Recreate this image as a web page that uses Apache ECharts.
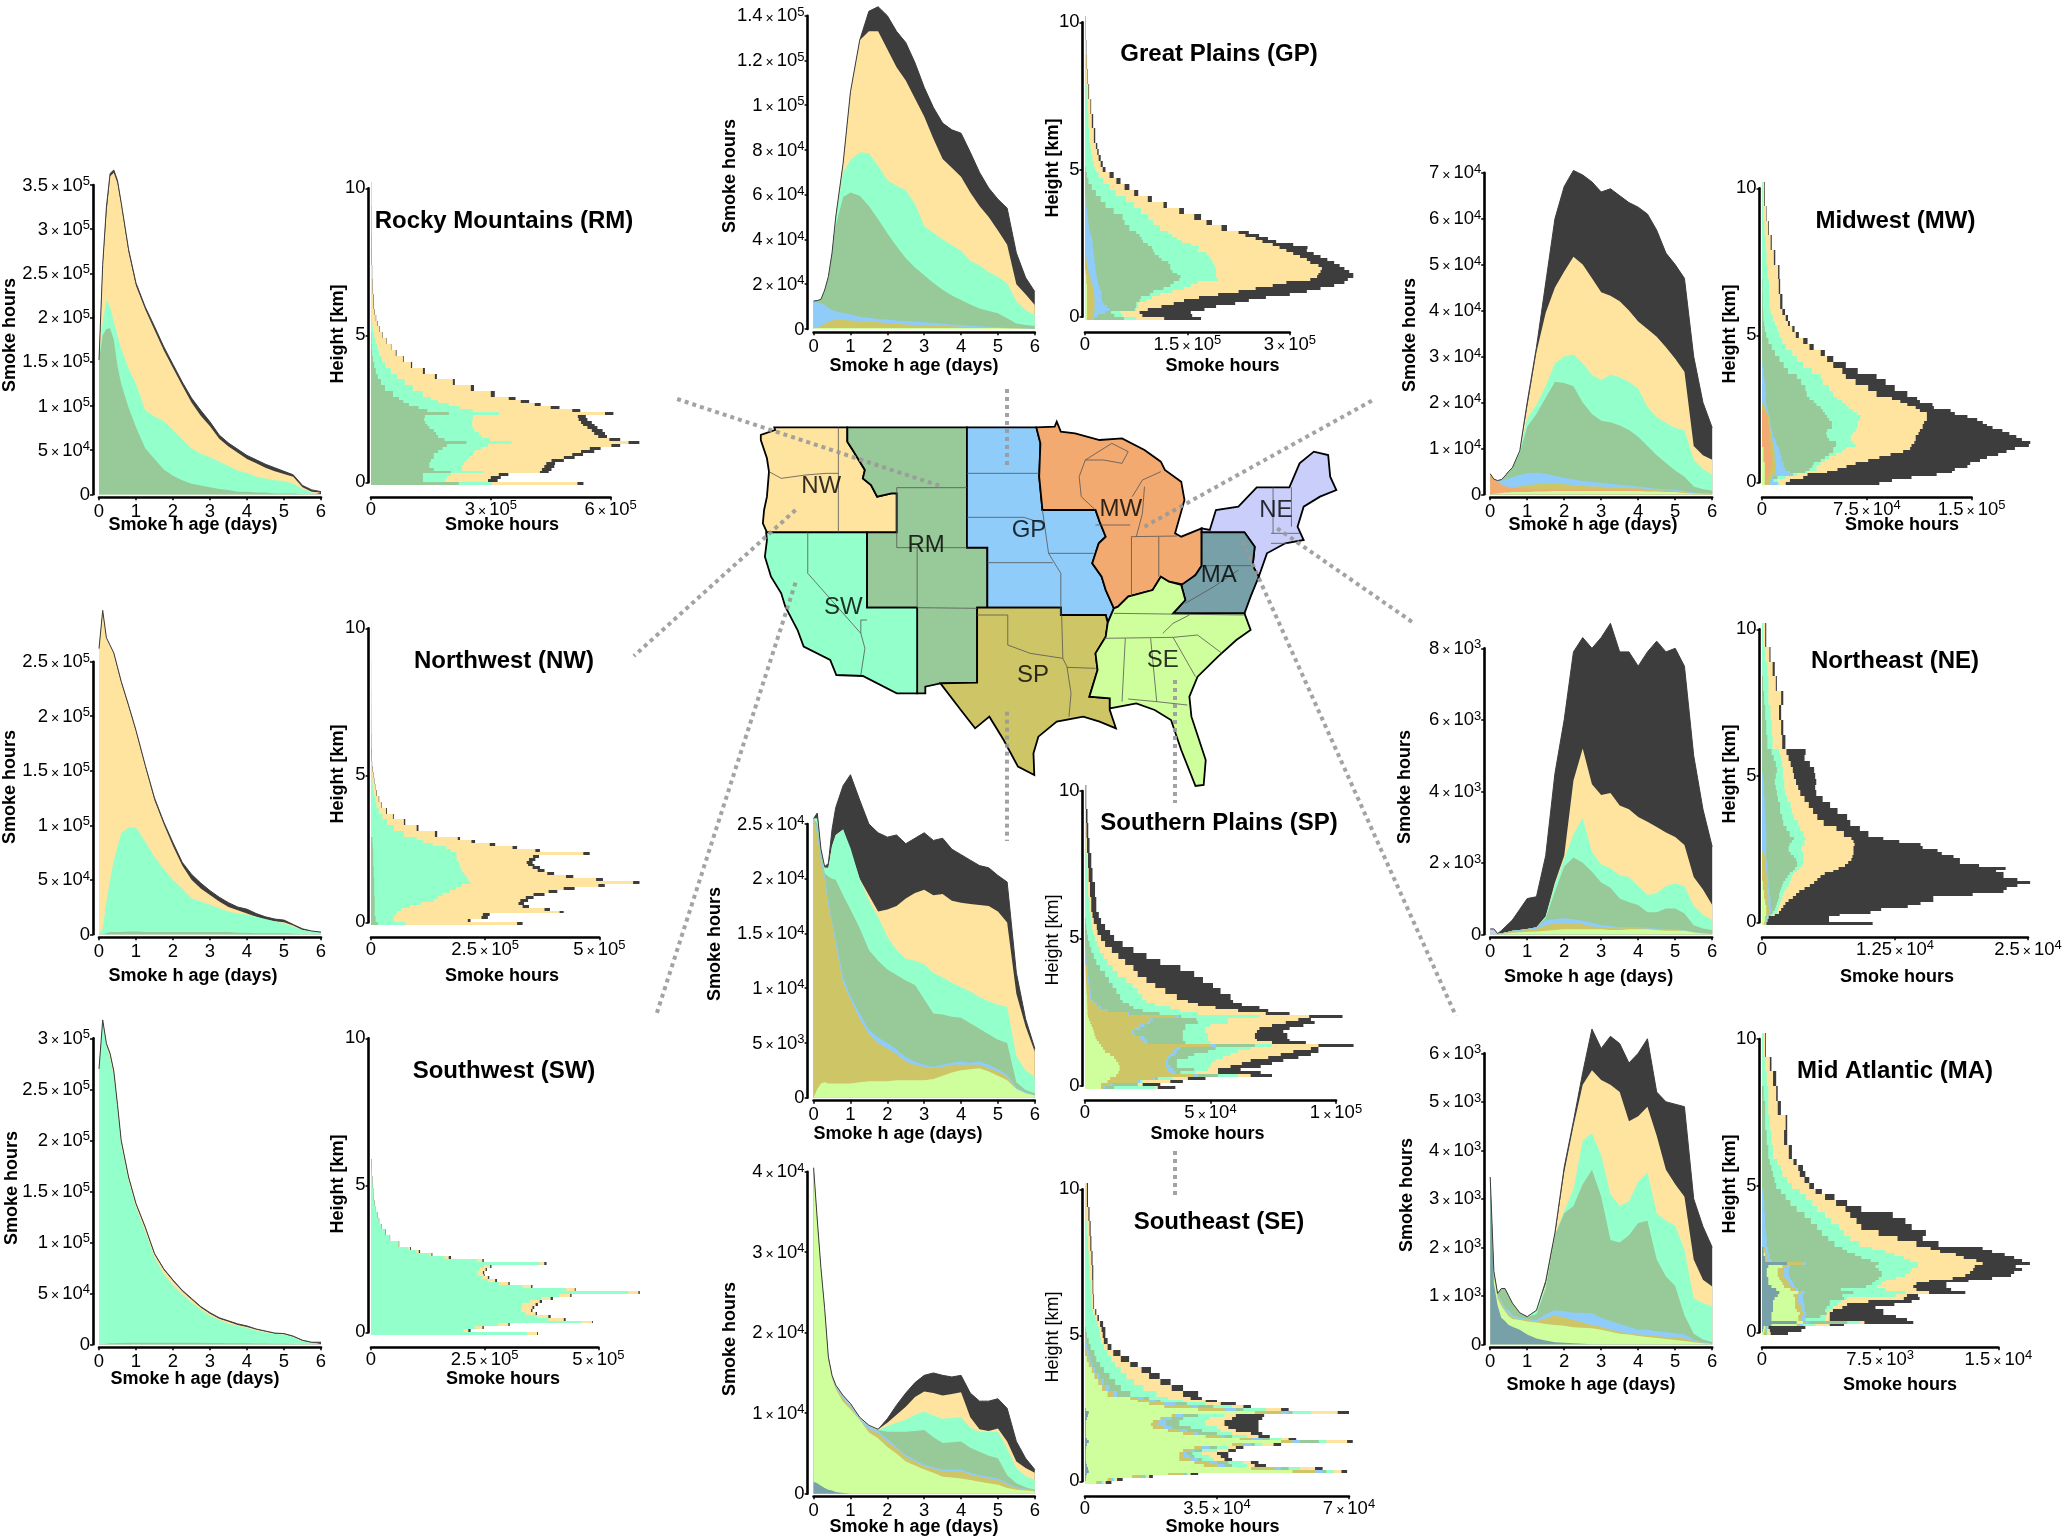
<!DOCTYPE html>
<html><head><meta charset="utf-8"><style>html,body{margin:0;padding:0;background:#fff}#c{width:2067px;height:1537px}</style>
<script src="https://cdn.jsdelivr.net/npm/echarts@6/dist/echarts.min.js"></script></head><body><div id="c"></div>
<script>
// shared sampling of the age axis (days) and height bin edges (km)
const ages=[0,.1,.2,.3,.4,.5,.6,.8,1,1.25,1.5,1.75,2,2.25,2.5,2.75,3,3.25,3.5,3.75,4,4.25,4.5,4.75,5,5.25,5.5,5.75,6];
const heightEdges=[-.1,0,.1,.2,.3,.4,.5,.6,.7,.8,.9,1,1.1,1.2,1.3,1.4,1.5,1.6,1.7,1.8,1.9,2,2.1,2.2,2.3,2.4,2.5,2.6,2.7,2.8,2.9,3.1,3.3,3.5,3.7,3.9,4.1,4.3,4.5,4.7,4.9,5.1,5.3,5.5,5.7,5.9,6.4,6.9,7.4,7.9,8.4,8.9,9.4,10.2];
// ---- Rocky Mountains (age, x1e5)
const RM_age_black=[1.52,2.6,3.25,3.63,3.67,3.55,3.3,2.77,2.39,2.12,1.9,1.67,1.47,1.27,1.09,.95,.82,.67,.58,.51,.44,.39,.34,.3,.26,.22,.1,.05,.03];
const RM_age_yellow=[1.52,2.58,3.18,3.6,3.64,3.52,3.28,2.74,2.36,2.09,1.86,1.63,1.43,1.23,1.04,.89,.77,.63,.54,.47,.4,.35,.3,.26,.23,.2,.08,.03,.02];
const RM_age_mint=[1.52,1.95,2.2,2.12,1.95,1.8,1.65,1.42,1.25,.95,.88,.83,.73,.62,.52,.46,.42,.37,.32,.27,.24,.2,.18,.16,.15,.12,.06,.02,.01];
const RM_age_green=[1.52,1.8,1.87,1.88,1.75,1.45,1.25,.98,.76,.52,.4,.28,.21,.16,.12,.1,.08,.06,.05,.03,.03,.02,.02,.01,.01,.01,0,0,0];
// ---- Northwest (age, x1e5)
const NW_age_black=[2.62,2.97,2.72,2.65,2.58,2.45,2.32,2.1,1.87,1.55,1.25,1.03,.84,.66,.55,.47,.4,.34,.29,.25,.23,.19,.16,.14,.13,.09,.05,.03,.02];
const NW_age_yellow=[2.62,2.97,2.72,2.65,2.58,2.44,2.31,2.09,1.86,1.54,1.23,1.01,.81,.63,.5,.42,.36,.3,.25,.22,.19,.16,.13,.12,.11,.08,.04,.02,.015];
const NW_age_mint=[0,.05,.3,.5,.68,.8,.93,.98,.98,.85,.71,.6,.5,.42,.33,.3,.27,.24,.21,.19,.18,.16,.14,.12,.1,.07,.04,.03,.02];
const NW_age_green=[0,0,.01,.02,.02,.02,.02,.025,.025,.02,.02,.02,.02,.02,.02,.02,.02,.02,.02,.015,.015,.01,.01,.01,.01,.005,0,0,0];
// ---- Southwest (age, x1e5)
const SW_age_black=[2.7,3.18,2.95,2.85,2.68,2.35,2,1.64,1.38,1.15,.89,.74,.63,.53,.45,.37,.31,.26,.23,.2,.18,.15,.13,.11,.105,.08,.04,.02,.02];
const SW_age_yellow=[2.7,3.17,2.94,2.84,2.67,2.34,1.99,1.63,1.37,1.14,.88,.73,.62,.52,.44,.36,.3,.25,.22,.19,.17,.145,.125,.105,.1,.075,.035,.015,.015];
const SW_age_mint=[2.7,3.16,2.93,2.8,2.63,2.3,1.95,1.6,1.34,1.1,.85,.69,.58,.49,.41,.34,.28,.24,.2,.18,.16,.135,.115,.1,.095,.07,.03,.015,.01];
const SW_age_green=[0,0,.005,.01,.01,.012,.012,.014,.015,.015,.015,.015,.015,.015,.015,.015,.012,.012,.01,.01,.01,.008,.008,.005,.005,.003,0,0,0];
// ---- Great Plains (age, x1e4)
const GP_age_black=[1.25,1.27,1.33,1.74,2.34,3.4,5,7.4,10.6,12.9,14.2,14.4,14,13.3,12.8,11.9,10.8,9.9,9.2,8.9,8.75,7.9,7,6.3,5.8,5.4,3.4,2.3,1.67];
const GP_age_yellow=[1.25,1.27,1.33,1.74,2.34,3.4,5,7.4,10.6,12.9,13.3,13.3,12.5,11.7,11.1,10.3,9.5,8.5,7.6,7.2,6.8,6.1,5.5,5,4.4,3.76,2,1.55,1.07];
const GP_age_mint=[1.25,1.27,1.33,1.74,2.34,3.4,5,7,7.55,7.9,7.85,7.3,6.66,6.4,6.2,5.6,4.6,4.3,4,3.75,3.5,3.05,2.85,2.55,2.34,2.04,1.25,.85,.63];
const GP_age_green=[1.25,1.27,1.33,1.74,2.34,3.4,4.6,5.9,6.1,5.95,5.5,4.9,4.28,3.7,3.16,2.75,2.4,2.05,1.75,1.5,1.3,1.1,.92,.8,.7,.48,.25,.18,.13];
const GP_age_blue=[1.25,1.2,1.15,1.07,.95,.85,.78,.72,.65,.55,.5,.45,.42,.38,.36,.34,.3,.27,.23,.2,.18,.15,.12,.1,.08,.05,.03,.02,.01];
const GP_age_olive=[0,.05,.15,.25,.32,.38,.4,.4,.38,.35,.33,.3,.27,.24,.2,.18,.16,.15,.14,.12,.1,.08,.07,.06,.05,.03,.02,.01,0];
const GP_age_lime=[.05,.05,.05,.05,.05,.05,.05,.05,.05,.05,.05,.05,.05,.05,.05,.05,.05,.05,.05,.05,.05,.05,.05,.05,.04,.03,.02,.01,.01];
// ---- Midwest (age, x1e4)
const MW_age_black=[.45,.33,.3,.32,.4,.5,.58,.95,2,3.2,4.6,6,6.7,7.05,6.95,6.8,6.58,6.65,6.5,6.35,6.25,6.1,5.75,5.25,5,4.7,3,2,1.45];
const MW_age_yellow=[.45,.33,.3,.32,.4,.5,.58,.95,1.9,3.1,3.95,4.5,4.85,5.17,5,4.7,4.4,4.32,4.2,4,3.76,3.6,3.43,3.2,2.95,2.67,1.05,.85,.75];
const MW_age_mint=[.45,.33,.3,.32,.4,.5,.58,.95,1.65,1.95,2.35,2.85,3,3.05,2.85,2.6,2.49,2.6,2.55,2.45,2.3,1.9,1.68,1.55,1.45,1.4,.75,.55,.42];
const MW_age_green=[.45,.33,.3,.32,.4,.5,.58,.9,1.47,1.75,2.1,2.45,2.42,2.35,2,1.75,1.6,1.57,1.5,1.4,1.25,1.05,.85,.68,.52,.38,.17,.11,.08];
const MW_age_blue=[.45,.33,.3,.3,.32,.35,.37,.42,.46,.47,.45,.4,.36,.32,.29,.27,.25,.23,.21,.19,.17,.14,.12,.11,.1,.07,.04,.02,.01];
const MW_age_olive=[.45,.33,.28,.22,.18,.16,.15,.17,.2,.22,.24,.24,.22,.2,.18,.17,.17,.15,.14,.13,.13,.11,.09,.08,.07,.05,.02,.01,0];
const MW_age_orange=[.45,.33,.25,.2,.17,.15,.14,.13,.12,.11,.11,.1,.1,.1,.09,.1,.1,.1,.1,.1,.1,.08,.07,.06,.05,.03,.02,.01,0];
const MW_age_lime=[0,.01,.02,.03,.04,.04,.05,.05,.05,.06,.06,.07,.07,.07,.07,.07,.07,.07,.07,.07,.07,.06,.06,.05,.05,.03,.02,.01,.01];
// ---- Northeast (age, x1e3)
const NE_age_black=[.15,.15,.02,.1,.2,.3,.4,.7,1,1.05,2.2,4.5,6,7.9,8.3,8,8.3,8.7,7.9,7.9,7.5,7.9,8.2,7.9,8,7.5,5,3.5,2.45];
const NE_age_yellow=[.15,.15,.02,.02,.05,.07,.1,.12,.15,.2,.5,1.45,2.2,4.3,5.2,4.2,3.9,3.95,3.6,3.5,3.28,3.15,3,2.85,2.72,2.5,1.6,1.25,.82];
const NE_age_mint=[.15,.15,.02,.02,.05,.07,.1,.12,.15,.2,.5,1.4,2.1,2.8,3.25,2.3,1.95,1.85,1.65,1.6,1.35,1.1,1.15,1.35,1.43,1.35,.8,.55,.4];
const NE_age_green=[.15,.15,.02,.02,.05,.07,.1,.12,.15,.2,.45,1.2,1.9,2.15,2,1.75,1.45,1.3,1,.9,.82,.62,.62,.72,.72,.58,.25,.16,.12];
const NE_age_blue=[0,0,0,.02,.05,.07,.1,.12,.15,.18,.4,.42,.45,.42,.38,.32,.25,.23,.2,.2,.2,.18,.16,.15,.14,.12,.06,.03,.02];
const NE_age_olive=[0,0,0,.02,.05,.06,.08,.1,.12,.15,.25,.3,.32,.3,.28,.22,.2,.18,.16,.18,.17,.16,.14,.12,.12,.1,.05,.02,.01];
const NE_age_lime=[0,0,0,0,.02,.03,.04,.06,.07,.08,.1,.12,.14,.14,.14,.14,.14,.12,.12,.14,.14,.14,.12,.1,.1,.1,.05,.02,.01];
const NE_age_lavender=[.15,.15,.02,0,0,0,0];
// ---- Mid Atlantic (age, x1e3)
const MA_age_black=[3.45,1.5,1.05,1.15,1.15,1,.85,.65,.57,.7,1.3,2.3,3.65,4.6,5.6,6.5,6.1,6.35,6.2,5.8,6,6.3,5.2,5,4.95,4.9,3,2.43,2];
const MA_age_yellow=[3.45,1.5,1.05,1.15,1.15,1,.85,.65,.57,.7,1.25,2.25,3.55,4.5,5.35,5.65,5.45,5.35,5.2,4.6,4.7,4.9,4.3,3.6,3.3,3.04,1.75,1.33,1.19];
const MA_age_mint=[3.45,1.5,1.05,1.15,1.15,1,.85,.65,.57,.7,1.2,2.25,2.75,3.2,4.2,4.35,3.9,3.1,2.85,2.95,3.35,3.55,2.7,2.55,2.45,1.95,.95,.85,.78];
const MA_age_green=[3.45,1.5,1.05,1.15,1.15,1,.85,.65,.57,.62,1.15,2.25,2.7,2.85,3.3,3.6,3.05,2.15,2.1,2.25,2.5,2.55,1.75,1.4,1.2,.6,.22,.1,.05];
const MA_age_blue=[3.45,1.5,1.05,.9,.75,.7,.6,.55,.52,.5,.62,.7,.68,.65,.65,.64,.55,.48,.42,.36,.3,.3,.27,.25,.23,.2,.1,.04,.02];
const MA_age_olive=[3.45,1.5,1,.85,.7,.62,.55,.52,.5,.47,.53,.6,.55,.5,.45,.4,.36,.3,.26,.22,.2,.19,.17,.15,.14,.12,.07,.03,.02];
const MA_age_lime=[3.2,1.45,.95,.8,.68,.58,.52,.5,.47,.45,.42,.4,.38,.35,.34,.33,.3,.26,.22,.2,.17,.15,.13,.11,.09,.07,.04,.02,.01];
const MA_age_teal=[3.45,1.25,.8,.55,.48,.4,.36,.3,.2,.12,.08,.04,.03,.02,.01];
// ---- Southern Plains (age, x1e4)
const SP_age_black=[2.55,2.6,2.27,2.11,2.14,2.45,2.65,2.85,2.95,2.72,2.5,2.42,2.38,2.4,2.32,2.37,2.42,2.35,2.37,2.27,2.22,2.17,2.12,2.1,2.03,1.97,1.14,.72,.45];
const SP_age_yellow=[2.55,2.55,2.25,2.1,2.1,2.3,2.4,2.45,2.25,2,1.85,1.7,1.72,1.75,1.82,1.87,1.9,1.85,1.86,1.8,1.78,1.77,1.76,1.75,1.7,1.6,.95,.65,.42];
const SP_age_mint=[2.55,2.55,2.25,2.1,2.1,2.3,2.4,2.45,2.28,2,1.8,1.65,1.47,1.35,1.27,1.25,1.22,1.14,1.1,1.05,1.01,.97,.92,.88,.85,.83,.38,.25,.19];
const SP_age_green=[2.55,2.5,2.25,2.05,2.02,2,1.99,1.85,1.72,1.55,1.35,1.25,1.17,1.12,1.07,1.03,.9,.77,.76,.74,.73,.68,.63,.58,.53,.5,.14,.07,.04];
const SP_age_blue=[2.55,2.45,2.2,2.05,1.8,1.62,1.45,1.1,.93,.77,.62,.55,.5,.44,.37,.33,.3,.28,.3,.32,.33,.32,.33,.3,.26,.21,.09,.05,.025];
const SP_age_olive=[2.55,2.4,2.15,2,1.75,1.6,1.4,1.05,.9,.72,.58,.5,.45,.4,.33,.3,.28,.27,.28,.3,.3,.3,.3,.27,.24,.19,.08,.04,.02];
const SP_age_lime=[0,.08,.13,.14,.13,.13,.13,.13,.13,.14,.15,.15,.15,.16,.16,.16,.16,.17,.2,.23,.25,.26,.27,.24,.2,.16,.08,.04,.02];
// ---- Southeast (age, x1e4)
const SE_age_black=[4.05,3.4,2.8,2.3,1.7,1.47,1.35,1.22,1.12,.95,.85,.8,.93,1.1,1.25,1.38,1.47,1.5,1.47,1.45,1.47,1.25,1.15,1.15,1.18,1.06,.65,.44,.3];
const SE_age_yellow=[4.05,3.4,2.8,2.3,1.7,1.47,1.35,1.22,1.12,.95,.85,.8,.88,.98,1.08,1.2,1.27,1.25,1.22,1.24,1.26,.95,.8,.78,.81,.65,.4,.32,.26];
const SE_age_mint=[0,0,0,0,0,0,0,0,0,.9,.83,.79,.84,.88,.92,.98,1.02,.97,.93,.94,.95,.82,.77,.77,.77,.56,.32,.22,.17];
const SE_age_green=[0,0,0,0,0,0,0,0,0,.9,.83,.79,.77,.77,.77,.78,.79,.7,.63,.64,.65,.57,.52,.47,.44,.23,.13,.08,.05];
const SE_age_blue=[4.05,3.4,2.8,2.3,1.7,1.47,1.34,1.21,1.11,.94,.84,.78,.68,.58,.48,.42,.36,.33,.3,.3,.3,.26,.23,.21,.19,.13,.08,.06,.05];
const SE_age_olive=[4.05,3.38,2.78,2.28,1.68,1.45,1.32,1.18,1.08,.92,.8,.75,.65,.56,.46,.4,.34,.31,.28,.28,.28,.24,.21,.19,.17,.11,.07,.05,.04];
const SE_age_lime=[4.05,3.38,2.78,2.28,1.66,1.43,1.3,1.14,1.05,.92,.76,.69,.58,.5,.4,.35,.3,.26,.21,.2,.19,.17,.15,.13,.11,.07,.05,.04,.03];
const SE_age_teal=[.15,.13,.1,.07,.05,.04,.02,.01];

// ---- height profiles: 30 fine rows, 15 mid rows, 8 coarse rows
const RM_h_black=[5.32,3.17,3.25,3.44,4.45,4.52,4.59,4.61,4.83,5.1,5.31,5.59,5.75,6.24,6.72,6.24,5.91,5.86,5.8,5.67,5.6,5.53,5.42,5.38,6.07,5.24,4.72,4.25,3.96,3.62,3.1,2.58,2.1,1.65,1.35,1.03,.82,.64,.51,.39,.29,.22,.17,.13,.1,.07,.04,.03,.02,.015,.01,.008,.005];
const RM_h_yellow=[5.17,2.93,3,3.2,4.23,4.28,4.34,4.39,4.52,4.83,5.04,5.26,5.48,6.02,6.45,5.97,5.69,5.59,5.53,5.42,5.31,5.26,5.2,5.18,5.86,5.04,4.5,4.1,3.75,3.45,3,2.5,2.05,1.6,1.3,1,.8,.62,.5,.38,.28,.21,.16,.12,.09,.06,.035,.025,.015,.012,.008,.006,.004];
const RM_h_mint=[3.03,1.85,1.9,2,2.82,2.28,2.28,2.33,2.39,2.46,2.55,2.6,2.77,2.93,3.52,2.98,2.77,2.71,2.6,2.55,2.53,2.53,2.55,2.55,3.2,2.55,2.22,1.95,1.68,1.5,1.3,1.05,.85,.65,.5,.36,.27,.2,.15,.11,.08,.05,.03,.02,.01,.005];
const RM_h_green=[2.2,1.3,1.3,1.3,2,1.57,1.46,1.46,1.5,1.57,1.57,1.68,1.79,1.9,2.39,1.84,1.68,1.63,1.57,1.46,1.41,1.36,1.33,1.35,1.95,1.41,1.19,.95,.81,.7,.55,.35,.25,.17,.12,.08,.05,.03,.02,.01,.01];
const NW_h_black=[3.32,2.18,2.56,2.6,4.22,3.92,3.46,3.35,3.44,3.56,3.8,4.08,4.46,5.12,5.88,5.08,4.43,4.01,3.8,3.7,3.58,3.54,3.6,3.68,4.79,3.7,3.2,2.72,2.28,1.95,1.45,1.04,.75,.5,.35,.24,.18,.13,.095,.075,.055,.035,.025,.02,.015,.008,.005,.004,.003,.002,.002,.001,.001];
const NW_h_yellow=[3.2,2.12,2.42,2.45,4.13,3.8,3.32,3.23,3.27,3.39,3.56,3.89,4.22,4.98,5.74,4.93,4.27,3.86,3.65,3.54,3.44,3.41,3.46,3.55,4.65,3.6,3.1,2.6,2.2,1.9,1.4,1,.72,.48,.33,.23,.17,.12,.09,.07,.05,.03,.02,.015,.01,.006,.004,.003,.002,.001];
const NW_h_mint=[.76,.5,.5,.55,.57,.66,.85,1.09,1.38,1.47,1.57,1.71,1.85,1.99,2.18,2.13,2.09,2.04,1.99,1.96,1.94,1.93,1.88,1.87,1.87,1.75,1.65,1.35,1.15,1,.72,.5,.35,.25,.17,.12,.09,.06,.04,.03,.02,.01,.01];
const NW_h_green=[.15,.1,.1,.08,.08,.08,.08,.08,.08,.08,.07,.07,.07,.07,.07,.07,.06,.06,.06,.06,.05,.05,.05,.05,.05,.05,.04,.04,.03,.03];
const SW_h_black=[3.67,2.19,2.48,3.05,4.88,4.28,3.95,3.65,3.55,3.59,3.67,3.76,4,4.41,5.91,4.5,3.55,3.05,2.77,2.6,2.5,2.49,2.55,2.65,3.86,2.48,1.76,1.35,1.08,.88,.62,.42,.32,.24,.18,.14,.1,.08,.06,.05,.04,.03,.02,.015,.01];
const SW_h_yellow=[3.65,2.14,2.45,3.02,4.86,4.24,3.9,3.62,3.52,3.55,3.62,3.71,3.95,4.38,5.88,4.48,3.52,3.02,2.73,2.57,2.48,2.46,2.52,2.62,3.81,2.45,1.71,1.33,1.05,.86,.61,.41,.31,.23,.17,.13,.1,.075,.055,.045,.035,.025,.015,.01,.005];
const SW_h_mint=[3.43,2.03,2.29,2.79,4.62,3.9,3.65,3.4,3.31,3.31,3.33,3.5,3.74,4.14,5.65,4.29,3.33,2.81,2.57,2.45,2.35,2.33,2.38,2.48,3.71,2.33,1.62,1.29,1,.81,.6,.41,.31,.23,.17,.13,.1,.075,.055,.045,.035,.025,.015,.01,.005];
const GP_h_black=[1.7,1.57,1.55,1.75,1.92,2.2,2.4,2.65,3,3.25,3.45,3.65,3.8,3.85,3.93,3.93,3.87,3.8,3.73,3.65,3.55,3.45,3.35,3.25,3.26,3.05,2.8,2.68,2.55,2.4,2.08,1.86,1.7,1.45,1.2,.98,.78,.65,.52,.42,.3,.26,.23,.2,.18,.15,.12,.09,.06,.04,.03,.02,.01];
const GP_h_yellow=[1.16,.84,.8,.92,1.12,1.3,1.45,1.67,1.95,2.25,2.5,2.75,2.95,3.3,3.4,3.42,3.45,3.47,3.42,3.3,3.25,3.15,3.05,2.95,2.85,2.75,2.6,2.5,2.35,2.25,2,1.78,1.6,1.38,1.15,.92,.72,.58,.46,.36,.26,.23,.2,.18,.16,.13,.1,.08,.05,.035,.025,.015,.008];
const GP_h_mint=[.75,.55,.52,.75,.78,.78,.9,.98,1.1,1.28,1.45,1.55,1.65,1.95,1.92,1.92,1.92,1.92,1.9,1.87,1.85,1.82,1.78,1.65,1.67,1.55,1.42,1.35,1.28,1.22,1.1,1,.93,.82,.72,.6,.45,.36,.27,.2,.15,.13,.11,.09,.08,.06,.05,.04,.025,.015,.01,.005,.003];
const GP_h_green=[.57,.43,.38,.73,.75,.75,.8,.82,.95,1,1.15,1.25,1.3,1.38,1.4,1.35,1.28,1.25,1.25,1.22,1.12,1.08,1.02,1,.98,.92,.85,.83,.8,.75,.65,.58,.55,.42,.3,.23,.16,.1,.05,.03,.01];
const GP_h_blue=[.13,.19,.3,.36,.32,.27,.25,.24,.24,.24,.22,.2,.19,.18,.17,.17,.16,.15,.15,.14,.14,.13,.13,.12,.12,.11,.11,.1,.09,.07,.06,.05,.04,.03,.02,.01];
const GP_h_olive=[.11,.12,.13,.14,.14,.14,.14,.14,.13,.13,.12,.11,.1,.08,.08,.07,.05,.04,.03,.03,.02,.02,.01,.01];
const GP_h_lime=[.03,.03,.03,.03,.03,.03,.03,.03,.03,.03,.03,.03,.02,.02,.02,.01,.01];
const MW_h_black=[8.4,9.3,10.7,12.5,13.6,13.8,14.7,14.9,15.6,16.1,16.9,17.5,18.1,19.1,19.2,18.6,18.2,17.7,17.2,16.5,16.1,15.8,15.4,14.7,13.8,13.5,12.3,12.2,11.3,11.1,10.4,9.5,8.85,8.2,6.85,6,5.1,4.5,3.7,3.26,2.64,2.33,2,1.86,1.65,1.46,1.3,1.25,.95,.7,.5,.33,.2];
const MW_h_yellow=[1.7,2,2.95,3.26,4.66,5.4,6.05,6.7,7.6,8.4,9.2,10.1,10.6,10.7,10.9,11,11,11.2,11.3,11.5,11.5,11.6,11.8,11.8,11.8,11.3,11,10.4,9.9,9.3,8.2,7.6,6.7,6,5.75,5.1,4.66,4.2,3.4,2.95,2.42,2.17,1.86,1.7,1.46,1.3,1.2,1.15,.85,.62,.45,.3,.15];
const MW_h_mint=[1.25,1.1,1.7,2.5,3.26,3.9,3.9,4.2,4.5,4.8,5.3,5.75,6,6.7,6.5,6.35,6.35,6.5,6.7,6.8,6.8,6.8,7,7.05,6.8,6.5,6.2,6,5.75,5.4,5.1,4.8,4.35,4.2,3.57,2.95,2.5,2.17,1.7,1.46,1.25,1.1,.93,.78,.62,.55,.5,.4,.32,.25,.18,.1,.05];
const MW_h_green=[1.1,.8,1.1,2.2,3.1,3.4,3.6,3.7,4.2,4.5,4.8,5.1,5.1,5.3,5.3,4.8,4.66,4.6,4.66,5,5,5,4.8,4.66,4.5,4.35,4.2,3.9,3.7,3.4,3.2,3.1,2.8,2.5,1.86,1.55,1.25,.93,.7,.46,.3,.2,.15,.1,.08,.05,.03];
const MW_h_blue=[1.1,.8,.8,2.2,2,1.7,1.55,1.55,1.4,1.4,1.33,1.25,1.25,1.1,1,.93,.78,.78,.72,.65,.62,.6,.58,.55,.47,.42,.38,.3,.28,.26,.3,.25,.2,.15,.1,.05];
const MW_h_olive=[.5,.6,.7,.9,1,1,1,1,1,.9,.9,.9,.8,.8,.8,.7,.7,.7,.6,.6,.6,.5,.5,.5,.4,.3,.2,.1];
const MW_h_orange=[.3,.3,.4,.5,.6,.6,.7,.7,.7,.7,.7,.6,.6,.6,.6,.5,.5,.5,.5,.5,.4,.4,.4,.4,.3,.1];
const MW_h_lime=[.2,.2,.2,.2,.2,.2,.2,.2,.1,.1,.1,.1,.1];
const NE_h_black=[10.4,6.3,6.3,7.3,10.2,11.2,13.7,14.9,16.1,16.1,19.8,22.7,23,24,25.2,24,22.7,22.7,22,22.9,20.4,18.6,18.6,18,16.9,16.5,15.1,14.9,12.9,11.4,10,9.2,8.3,8,7.1,6.4,5.7,5.1,5,5.1,5,4.9,4.5,4,4.1,2.2,2,1.8,2,1.4,1.2,.8,.4];
const NE_h_yellow=[.4,.5,.6,1.2,1.6,1.8,2,2.2,2.5,2.9,3.2,3.5,4,4.5,4.9,5.2,5.5,5.9,6.7,7.2,7.8,8.1,8.4,8.5,8.6,8.6,8.6,8.7,8.6,8.4,7.7,7,5.8,5.2,4.8,4.4,4,3.6,3.4,3.2,3,2.9,2.7,2.5,2.3,1.9,1.8,1.6,1.8,1.3,1,.7,.3];
const NE_h_mint=[.4,.5,.6,1,1.4,1.5,1.6,1.7,1.8,1.9,2,2.1,2.3,2.5,2.6,2.7,2.8,3,3.3,3.5,3.8,3.9,3.9,3.9,3.9,3.7,3.7,4,4,4.1,3.9,3.6,3.4,3,2.8,2.7,2.4,2.2,2.1,2.1,2,2,1.9,1.8,1.6,1,.9,.8,.6,.6,.5,.3,.1];
const NE_h_green=[.3,.4,.5,.8,1,1.2,1.3,1.4,1.5,1.6,1.6,1.7,1.8,1.9,2,2.2,2.4,2.6,2.9,3.1,3.3,3.3,3.2,3,2.7,2.5,2.5,2.6,2.8,3,2.6,2.3,2,1.9,1.7,1.7,1.5,1.4,1.3,1.2,1.3,1.4,1.3,1.1,.9,.5,.4,.3,.2,.1];
const NE_h_blue=[.3,.35,.45,.7,.8,.9,.8,.8,.8,.8,.7,.7,.7,.6,.6,.6,.6,.5,.5,.5,.5,.5,.4,.4,.4,.4,.4,.4,.4,.4,.4,.4,.35,.3,.3,.25,.25,.2,.2,.15,.1];
const NE_h_olive=[.3,.3,.4,.6,.7,.7,.6,.6,.6,.6,.6,.5,.5,.5,.5,.5,.5,.4,.4,.4,.3,.3,.3,.3,.2];
const NE_h_lime=[.2,.3,.3,.4,.4,.4,.4,.3,.3,.2,.2,.2,.1,.1,.1];
const MA_h_black=[1.65,2.5,2.75,5.2,9.6,9.2,8.5,7.7,7.7,7.2,8.4,9.5,10,9.9,12.9,12,11.7,11.7,13.1,14.6,15.8,16,16.5,16.1,17,16.5,16,15.4,14.6,14,11.2,10.2,10.4,9.5,9.1,8.3,6.3,5.4,4.6,3.8,3.3,3,2.75,2.6,2.2,1.9,1.6,1.6,1.2,1,.9,.6,.25];
const MA_h_yellow=[.55,.5,.4,4.3,6.5,4.3,4.3,4.3,4.5,5.1,5.4,6.75,9,9.2,10.6,9.8,9.6,9.8,10.6,12.1,12.9,13.2,13.4,13.5,14,13.6,12.8,12.3,11.3,10.7,9.8,8.6,7.4,6.3,6,5.6,5.3,4.7,4,3.4,3,2.7,2.4,2.3,2,1.7,1.4,1.5,1,.9,.7,.5,.2];
const MA_h_mint=[.4,.4,.4,3.4,6.2,4,4.05,4.1,4.3,4.5,4.8,5,5.4,8.5,9.1,7.85,7.3,7.6,7.85,8.5,9.1,9.4,9.5,9.9,9.9,9.4,9,8.4,7.85,7,6.2,5.6,5.2,4.9,4.4,4,3.5,3.2,2.8,2.4,1.9,1.6,1.3,1.2,1,.7,.6,.5,.4,.4,.3,.2,.1];
const MA_h_green=[.3,.3,.35,2.6,5.4,2.75,3.7,4.1,4,4.1,4.3,4.3,5.2,5.1,5.8,5,6.6,7,7.2,7.4,7.6,7.6,7.4,7.2,7.4,6.9,6.3,5.9,5.4,5.1,4.6,4.2,3.8,3.5,3.1,2.7,2.2,1.8,1.5,1.2,.9,.8,.7,.6,.5,.4,.3,.2,.2,.1];
const MA_h_blue=[.2,.25,.3,2.6,3,2.75,2.75,2.8,2.7,2.7,2.7,2.65,2.6,2.6,2.7,2.3,2.1,2,1.9,1.8,1.7,1.7,1.7,1.8,2.8,.6,.5,.5,.4,.4,.3,.3,.25,.2,.2,.2,.15,.15,.1,.1];
const MA_h_olive=[.2,.2,.25,2.4,2.8,2.5,2.5,2.6,2.5,2.5,2.4,2.3,2.3,2.3,2.5,2.1,1.9,1.7,1.6,1.5,1.4,1.4,1.4,1.6,2.6,.4,.3,.3,.2,.2];
const MA_h_lime=[.1,.15,.2,2.2,2.6,2.3,2.3,2.4,2.2,2.1,2.1,2.1,2.1,2,2.3,1.8,1.4,1.3,1.2,1.1,1,1,1,1.3,1.6,.2,.2,.2,.1,.1];
const MA_h_teal=[0,.05,.1,.6,2.2,.6,.6,.6,.7,.7,.7,.7,.8,1,1.1,.9,.6,.4,.4,.4,.3,.3,.3,.4,1.6,.2,.2,.1,.1,.1];
const SP_h_black=[3.6,3,3.9,4.8,7.45,7,6.2,7,7.45,7.9,8.5,9,9.3,9.3,10.7,8.8,8.15,8.06,8.06,7.9,8.15,8.7,9.15,9,10.26,8.15,7.3,6.95,6.25,5.9,5.8,5.4,5.1,4.7,4.35,3.8,3,2.45,1.93,1.5,1.16,1,.8,.64,.55,.45,.4,.3,.25,.18,.13,.1,.05];
const SP_h_yellow=[2.9,2.3,3.4,4.1,6.6,5.3,5.3,5.8,6.25,6.6,7.3,7.8,8.3,9,9.3,7.45,6.85,6.77,6.77,6.85,6.95,7.45,8,8.5,8.93,7.2,6.1,5.2,4.5,4.1,3.66,3.2,2.8,2.45,2.1,1.93,1.6,1.33,1.07,.8,.64,.5,.47,.35,.3,.25,.2,.15,.12,.08,.06,.04,.02];
const SP_h_mint=[2.8,2.1,2.3,3.5,6.1,4.4,4.9,5,5.04,5.2,5.5,5.8,6.1,6.6,7.45,5,4.9,4.9,4.9,4.8,4.8,5,5.7,5.7,6.95,4.5,3.8,3.4,2.8,2.45,2.28,2.1,1.9,1.65,1.3,1.1,.9,.75,.6,.5,.4,.32,.28,.25,.22,.18,.12,.1,.07,.05,.03,.02,.01];
const SP_h_green=[1.16,2.1,1.9,2.9,5.3,3.8,4.35,3.66,3.66,3.66,4.1,4.35,4.9,5.2,6.77,4,3.9,3.9,3.9,3.9,4,4,4.5,4.44,3.83,2.97,2.3,1.93,1.76,1.5,1.4,1.25,1.1,.95,.8,.6,.45,.35,.25,.18,.12,.08,.05,.03];
const SP_h_blue=[.8,1.1,2.2,2.8,4.5,3.6,3.5,3.4,3.3,3.3,3.4,3.6,3.66,3.8,5.2,2.5,2.45,2.37,2,1.93,2.2,2.37,2.6,2.7,3.75,1.76,.9,.64,.47,.35,.25,.22,.18,.15,.12,.1,.08,.05,.03];
const SP_h_olive=[.73,1,2.1,2.7,4.35,3.4,3.3,3.2,3.2,3.2,3.3,3.4,3.5,3.6,5,2.37,2.28,2.2,1.93,1.85,2,2.2,2.45,2.6,3.6,1.68,.8,.55,.4,.3,.2,.18,.15,.12,.1,.08,.05,.03];
const SP_h_lime=[.64,.64,.9,1,1.24,1.33,1.38,1.38,1.33,1.24,1.16,1,.8,.72,.64,.55,.47,.42,.38,.35,.31,.26,.21,.16,.12,.1,.1,.09,.09,.08,.08,.06,.05,.04,.03,.02];
const SE_h_black=[.7,1,1.8,3,6.95,6.3,4.8,4.6,3.9,3.8,3.8,4,4.2,5.2,7.1,5.6,4.9,4.7,4.6,4.6,4.6,4.6,4.7,4.75,7,5.4,4.4,4,3.5,3.1,3,2.6,2.27,1.98,1.75,1.4,1.17,.94,.7,.6,.54,.54,.48,.37,.3,.24,.22,.22,.2,.17,.15,.12,.08];
const SE_h_yellow=[.55,.85,1.7,2.8,6.8,6.1,4.5,4.4,3.7,3.6,3.5,3.8,4,5,6.95,5.4,4.6,4.4,4,3.8,3.7,3.7,3.9,4,6.7,5.2,4.2,3.6,3.2,2.8,2.6,2.3,2,1.7,1.5,1.2,.95,.75,.6,.5,.47,.44,.4,.33,.27,.22,.2,.19,.17,.14,.12,.09,.05];
const SE_h_mint=[.5,.8,1.65,2.75,6.6,5.7,4.3,4.2,3.4,3.3,3.1,3.5,3.8,4.7,6.4,5.2,4.3,3.9,3.6,3.5,3.2,3.2,3.3,3.7,6,4.8,3.9,3.2,2.6,2.2,1.9,1.55,1.3,1.1,.95,.8,.7,.6,.5,.42,.4,.37,.33,.28,.22,.18,.15,.12,.1,.08,.05,.03,.01];
const SE_h_green=[.45,.75,1.6,2.7,6.4,5.4,3.9,3.8,3.1,2.9,2.85,3.1,3.5,4.5,6.2,4.9,3.9,3.5,3.1,2.8,2.5,2.5,2.6,3,5.5,4.2,3.4,2.7,2,1.7,1.2,.95,.8,.65,.5,.4,.3,.25,.15,.1,.05,.02];
const SE_h_blue=[.45,.75,1.55,2.65,6.3,5.2,3.7,3.5,3,2.8,2.7,2.9,3.3,4.4,5.7,4.7,3.7,3,2.7,2.3,2.15,2.15,2.3,2.6,5.4,4,3,2.4,1.9,1.55,.85,.65,.5,.38,.27,.2,.15,.1,.05,.03];
const SE_h_olive=[.4,.7,1.5,2.6,6.1,5.05,3.5,3.3,2.8,2.6,2.6,2.8,3.1,4.2,5.5,4.4,3.6,2.9,2.5,2.1,1.9,1.95,2.1,2.4,5.2,3.7,2.8,2.1,1.7,1.4,.75,.55,.42,.32,.22,.15,.1,.05];
const SE_h_lime=[.3,.6,1.25,2.2,5.5,4.4,3.15,2.9,2.5,2.5,2.5,2.6,2.9,3.9,5.2,4.1,3.2,2.6,2.2,1.8,1.75,1.8,2,2.3,4.5,3,2.1,1.7,1.4,1.2,.6,.45,.35,.25,.18,.1,.05];
const SE_h_teal=[0,.02,.03,.05,.1,.08,.05,.03,.02,.02,.02,.02,.03,.05,.1,.05,.02,.02,.02,.02,.02,.02,.05,.08,.1,.02];

// ---- map outlines, in a local map unit
const map_NW=[[133,82],[312,82],[312,125],[325,150],[340,180],[355,210],[350,235],[370,255],[385,290],[420,280],[433,280],[433,397],[115,397],[105,370],[108,330],[115,290],[120,215],[115,175],[100,120],[100,105],[135,90]];
const map_RM=[[312,82],[605,82],[605,443],[655,443],[655,623],[630,623],[630,848],[540,850],[503,860],[503,880],[483,880],[483,623],[360,623],[360,397],[433,397],[433,280],[420,280],[385,290],[370,255],[350,235],[355,210],[340,180],[325,150],[312,125]];
const map_GP=[[605,82],[775,82],[785,130],[782,230],[790,330],[920,330],[930,365],[945,410],[928,430],[912,490],[935,530],[945,570],[965,625],[950,668],[945,645],[835,645],[835,623],[655,623],[655,443],[605,443]];
const map_MW=[[775,82],[820,80],[825,65],[835,95],[870,100],[930,120],[985,115],[1040,150],[1080,185],[1090,210],[1130,245],[1138,300],[1115,400],[1130,410],[1180,385],[1180,497],[1165,525],[1140,555],[1100,545],[1080,530],[1060,570],[1000,590],[975,620],[965,625],[945,570],[935,530],[912,490],[928,430],[945,410],[930,365],[920,330],[790,330],[782,230],[785,130]];
const map_NE=[[1180,385],[1200,390],[1215,330],[1270,320],[1315,262],[1395,262],[1420,190],[1455,155],[1490,165],[1495,230],[1510,270],[1470,290],[1430,320],[1415,380],[1430,420],[1385,430],[1340,460],[1320,530],[1305,497],[1310,440],[1285,397],[1180,397]];
const map_MA=[[1180,397],[1285,397],[1310,440],[1305,497],[1320,530],[1300,590],[1285,640],[1110,640],[1140,600],[1130,555],[1165,525],[1180,497]];
const map_SW=[[113,397],[360,397],[360,623],[483,623],[483,880],[433,880],[350,828],[285,825],[270,780],[205,740],[190,690],[160,620],[150,580],[125,530],[110,470],[115,420]];
const map_SP=[[630,623],[835,623],[835,645],[945,645],[950,668],[945,710],[920,760],[925,810],[905,890],[955,895],[955,930],[970,985],[930,965],[890,950],[825,965],[780,1010],[768,1060],[770,1125],[730,1100],[695,1020],[660,950],[625,985],[590,930],[540,850],[630,848]];
const map_SE=[[965,625],[975,620],[1000,590],[1060,570],[1080,530],[1100,545],[1130,555],[1140,600],[1110,640],[1285,640],[1300,690],[1265,720],[1220,770],[1170,830],[1150,890],[1155,950],[1190,1080],[1185,1155],[1165,1158],[1130,1050],[1105,960],[1065,930],[1020,910],[955,925],[955,895],[905,890],[925,810],[920,760],[945,710],[950,668]];
const regionNames=['NW','RM','GP','MW','NE','MA','SW','SP','SE'];
const regionShapes=[map_NW,map_RM,map_GP,map_MW,map_NE,map_MA,map_SW,map_SP,map_SE];
const regionLabelSpots=[[248,258],[505,437],[757,390],[982,328],[1362,330],[1222,527],[302,623],[767,825],[1085,780]];
const stateLines=[[[290,82],[290,397]],[[120,215],[150,235],[210,225],[260,220],[290,220]],[[215,397],[215,520],[345,700]],[[345,700],[355,745],[345,825]],[[360,660],[345,660],[345,700]],[[433,263],[605,263]],[[433,263],[433,443],[605,443]],[[483,443],[483,623]],[[483,623],[630,625]],[[605,220],[782,220]],[[605,352],[745,352],[790,370]],[[655,488],[815,488]],[[790,330],[805,460],[915,460]],[[805,460],[835,520],[835,645]],[[880,230],[885,290],[920,330]],[[895,180],[960,130],[1000,155],[985,190],[940,180],[895,180],[880,230]],[[920,375],[1005,375]],[[1008,410],[1008,590]],[[1075,410],[1075,530]],[[1008,410],[1120,408]],[[1010,290],[1035,240],[1080,215]],[[1040,260],[1035,340],[1020,410]],[[1180,497],[1305,497]],[[1140,610],[1210,560],[1270,510]],[[1355,262],[1355,400]],[[1400,262],[1400,380]],[[1350,400],[1420,400]],[[1350,430],[1390,430]],[[630,645],[705,645],[705,735],[760,760],[840,775],[850,800],[860,880],[855,950]],[[837,645],[840,775]],[[850,802],[920,805]],[[965,640],[1285,645]],[[940,715],[1110,712]],[[993,715],[985,905]],[[1055,715],[1070,905]],[[1000,897],[1070,905],[1145,915]],[[1110,712],[1165,830]],[[1110,712],[1170,705],[1230,760]],[[1085,700],[1110,670],[1150,645]]];
const connectors=[[[-105,-3],[540,258]],[[185,330],[-211,768]],[[185,548],[-157,1848]],[[703,-33],[703,195]],[[703,935],[703,1323]],[[1115,840],[1115,1209]],[[1115,2253],[1115,2385]],[[1040,380],[1600,0]],[[1365,385],[1703,672]],[[1280,425],[1803,1848]]];

// ---- styles and layout
const layerColors={black:'#3d3d3d',yellow:'#FFE4A0',mint:'#93FFCB',green:'#98C999',blue:'#90CCF9',olive:'#CDC566',orange:'#F2AA70',lime:'#CFFF9D',teal:'#78A0A8',lavender:'#C9CFFA'};
const regionColors={NW:'#FFE4A0',RM:'#98C999',GP:'#90CCF9',MW:'#F2AA70',NE:'#C9CFFA',MA:'#78A0A8',SW:'#93FFCB',SP:'#CDC566',SE:'#CFFF9D'};
const drawOrder=['black','yellow','mint','green','blue','olive','orange','lime','teal','lavender'];
const FONT='Liberation Sans';
const panels=[
{id:'RM',title:'Rocky Mountains (RM)',t:[503,220],ageUnit:1e5,hUnit:1e5,ageMax:3.5e5,ageStep:5e4,hMax:6e5,hStep:3e5,
 a:[99,321,185,494.3],h:[371,610.6,188.3,482.3],axisY:497.3,an:[193,526],hn:[502,526],yn:[9.5,335],kn:[337,334],
 age:{black:RM_age_black,yellow:RM_age_yellow,mint:RM_age_mint,green:RM_age_green},prof:{black:RM_h_black,yellow:RM_h_yellow,mint:RM_h_mint,green:RM_h_green}},
{id:'NW',title:'Northwest (NW)',t:[503,660],ageUnit:1e5,hUnit:1e5,ageMax:2.5e5,ageStep:5e4,hMax:5e5,hStep:2.5e5,
 a:[99,321,661.7,934.3],h:[371,599.3,628.3,922.3],axisY:937.3,an:[193,977],hn:[502,977],yn:[9.5,787],kn:[337,774],
 age:{black:NW_age_black,yellow:NW_age_yellow,mint:NW_age_mint,green:NW_age_green},prof:{black:NW_h_black,yellow:NW_h_yellow,mint:NW_h_mint,green:NW_h_green}},
{id:'SW',title:'Southwest (SW)',t:[503,1070],ageUnit:1e5,hUnit:1e5,ageMax:3e5,ageStep:5e4,hMax:5e5,hStep:2.5e5,
 a:[99,321,1038.3,1344.3],h:[371,598.4,1038.3,1332.3],axisY:1347.3,an:[195,1380],hn:[503,1380],yn:[11,1188],kn:[337,1184],
 age:{black:SW_age_black,yellow:SW_age_yellow,mint:SW_age_mint,green:SW_age_green},prof:{black:SW_h_black,yellow:SW_h_yellow,mint:SW_h_mint}},
{id:'GP',title:'Great Plains (GP)',t:[1218,53],ageUnit:1e4,hUnit:1e5,ageMax:1.4e5,ageStep:2e4,hMax:3e5,hStep:1.5e5,
 a:[813.6,1034.8,15.7,329],h:[1085,1289.8,22.3,316.7],axisY:332.3,an:[914,367],hn:[1222.5,367],yn:[729.5,176],kn:[1052,168],
 age:{black:GP_age_black,yellow:GP_age_yellow,mint:GP_age_mint,green:GP_age_green,blue:GP_age_blue,olive:GP_age_olive,lime:GP_age_lime},prof:{black:GP_h_black,yellow:GP_h_yellow,mint:GP_h_mint,green:GP_h_green,blue:GP_h_blue,olive:GP_h_olive,lime:GP_h_lime}},
{id:'MW',title:'Midwest (MW)',t:[1894.4,220],ageUnit:1e4,hUnit:1e4,ageMax:7e4,ageStep:1e4,hMax:1.5e5,hStep:7.5e4,
 a:[1490.2,1712.2,172.7,494.3],h:[1762,1971.6,188.3,482.3],axisY:497.3,an:[1593,526],hn:[1902,526],yn:[1409.5,335],kn:[1728.7,334],
 age:{black:MW_age_black,yellow:MW_age_yellow,mint:MW_age_mint,green:MW_age_green,blue:MW_age_blue,olive:MW_age_olive,orange:MW_age_orange,lime:MW_age_lime},prof:{black:MW_h_black,yellow:MW_h_yellow,mint:MW_h_mint,green:MW_h_green,blue:MW_h_blue,olive:MW_h_olive,orange:MW_h_orange,lime:MW_h_lime}},
{id:'NE',title:'Northeast (NE)',t:[1894,660],ageUnit:1e3,hUnit:1e3,ageMax:8e3,ageStep:2e3,hMax:2.5e4,hStep:1.25e4,
 a:[1490.2,1712.2,648.3,934.3],h:[1762,2028,629.3,922.3],axisY:937.3,an:[1588.6,978],hn:[1897,978],yn:[1404,787],kn:[1728.7,774],
 age:{black:NE_age_black,yellow:NE_age_yellow,mint:NE_age_mint,green:NE_age_green,blue:NE_age_blue,olive:NE_age_olive,lime:NE_age_lime,lavender:NE_age_lavender},prof:{black:NE_h_black,yellow:NE_h_yellow,mint:NE_h_mint,green:NE_h_green,blue:NE_h_blue,olive:NE_h_olive,lime:NE_h_lime}},
{id:'MA',title:'Mid Atlantic (MA)',t:[1894,1070],ageUnit:1e3,hUnit:1e3,ageMax:6e3,ageStep:1e3,hMax:1.5e4,hStep:7.5e3,
 a:[1490.2,1712.2,1053.3,1344.3],h:[1762,1998.4,1039,1332.3],axisY:1347.3,an:[1591,1386],hn:[1900,1386],yn:[1406.5,1195],kn:[1728.7,1184],
 age:{black:MA_age_black,yellow:MA_age_yellow,mint:MA_age_mint,green:MA_age_green,blue:MA_age_blue,olive:MA_age_olive,lime:MA_age_lime,teal:MA_age_teal},prof:{black:MA_h_black,yellow:MA_h_yellow,mint:MA_h_mint,green:MA_h_green,blue:MA_h_blue,olive:MA_h_olive,lime:MA_h_lime,teal:MA_h_teal}},
{id:'SP',title:'Southern Plains (SP)',t:[1218,822],ageUnit:1e4,hUnit:1e4,ageMax:2.5e4,ageStep:5e3,hMax:1e5,hStep:5e4,thin:true,
 a:[813.6,1034.8,824,1097.7],h:[1085,1336,791,1085.7],axisY:1100.7,an:[898,1135],hn:[1207.4,1135],yn:[714,944],kn:[1052,940],
 age:{black:SP_age_black,yellow:SP_age_yellow,mint:SP_age_mint,green:SP_age_green,blue:SP_age_blue,olive:SP_age_olive,lime:SP_age_lime},prof:{black:SP_h_black,yellow:SP_h_yellow,mint:SP_h_mint,green:SP_h_green,blue:SP_h_blue,olive:SP_h_olive,lime:SP_h_lime}},
{id:'SE',title:'Southeast (SE)',t:[1218,1221],ageUnit:1e4,hUnit:1e4,ageMax:4e4,ageStep:1e4,hMax:7e4,hStep:3.5e4,thin:true,
 a:[813.6,1034.8,1171.7,1495.7],h:[1085,1349,1189.3,1483.3],axisY:1498.3,an:[914,1530],hn:[1222.5,1530],yn:[729.5,1340],kn:[1052,1338],
 age:{black:SE_age_black,yellow:SE_age_yellow,mint:SE_age_mint,green:SE_age_green,blue:SE_age_blue,olive:SE_age_olive,lime:SE_age_lime,teal:SE_age_teal},prof:{black:SE_h_black,yellow:SE_h_yellow,mint:SE_h_mint,green:SE_h_green,blue:SE_h_blue,olive:SE_h_olive,lime:SE_h_lime,teal:SE_h_teal}}
];
const TICK=18.5, NAME=18;
const richStyle={n:{fontSize:TICK,fontFamily:FONT,color:'#000',lineHeight:20,verticalAlign:'bottom'},x:{fontSize:14,fontFamily:FONT,color:'#000',lineHeight:20,padding:[0,3,0,3],verticalAlign:'bottom'},s:{fontSize:13,fontFamily:FONT,color:'#000',lineHeight:20,verticalAlign:'top'}};
function sci(v){ if(!v) return '{n|0}'; const e=Math.floor(Math.log10(v)+1e-9); const m=+(v/Math.pow(10,e)).toPrecision(3); return `{n|${m}}{x|×}{n|10}{s|${e}}`; }
const axisCommon={splitLine:{show:false},nameMoveOverlap:false,axisLine:{show:true,onZero:false,lineStyle:{color:'#000',width:2.6}},axisTick:{show:true,length:3,lineStyle:{color:'#000',width:1.5}}};
const numLabel=m=>({color:'#000',fontFamily:FONT,fontSize:TICK,margin:m,hideOverlap:false,showMinLabel:true,showMaxLabel:true});
function xName(text,desired,axisLo,axisHi,axisY,bold){const c=(axisLo+axisHi)/2,d=desired[0]-c;return {name:text,nameLocation:'middle',nameGap:desired[1]-axisY-NAME/2-1,nameTextStyle:{color:'#000',fontFamily:FONT,fontSize:NAME,fontWeight:bold?'bold':'normal',padding:d<0?[0,-2*d,0,0]:[0,0,0,2*d]}};}
function yName(text,desired,axisTop,axisBot,axisX,bold){const c=(axisTop+axisBot)/2,d=c-desired[1];return {name:text,nameLocation:'middle',nameGap:axisX-desired[0]-NAME/2-1,nameTextStyle:{color:'#000',fontFamily:FONT,fontSize:NAME,fontWeight:bold?'bold':'normal',padding:d>0?[0,0,0,2*d]:[0,-2*d,0,0]}};}
const rowItem=(params,api)=>{
  const lo=api.coord([0,api.value(0)]),hi=api.coord([api.value(2),api.value(1)]);
  const w=hi[0]-lo[0]; if(!(w>0)) return;
  const y1=Math.round(hi[1]),y0=Math.round(lo[1]);
  return {type:'rect',shape:{x:lo[0],y:y1,width:w,height:y0-y1},style:{fill:api.visual('color')}};
};
const grids=[],xAxes=[],yAxes=[],series=[],titles=[];
panels.forEach(p=>{
  titles.push({text:p.title,left:p.t[0]-4,top:p.t[1]-4,textAlign:'center',textVerticalAlign:'middle',textStyle:{fontFamily:FONT,fontSize:24,fontWeight:'bold',color:'#000'}});
  // age panel
  let gi=grids.length, [x0,x1,yT,yB]=p.a;
  grids.push({left:x0,top:yT,width:x1-x0,height:yB-yT,containLabel:false});
  xAxes.push({gridIndex:gi,type:'value',min:0,max:6,interval:1,position:'bottom',offset:p.axisY-yB,...axisCommon,axisLabel:numLabel(5),...xName('Smoke h age (days)',p.an,x0,x1,p.axisY,true)});
  yAxes.push({gridIndex:gi,type:'value',min:0,max:p.ageMax,interval:p.ageStep,position:'left',offset:6,...axisCommon,axisLabel:{...numLabel(3),formatter:sci,rich:richStyle,align:'right'},...yName('Smoke hours',p.yn,yT,yB,x0-6,true)});
  drawOrder.forEach(l=>{ const arr=p.age[l]; if(!arr) return;
    series.push({name:p.id+' age '+l,type:'line',xAxisIndex:gi,yAxisIndex:gi,clip:false,showSymbol:false,silent:true,animation:false,
      data:ages.map((a,i)=>[a,(arr[i]||0)*p.ageUnit]),lineStyle:{color:layerColors[l],width:l==='black'?1:0},itemStyle:{color:layerColors[l]},areaStyle:{color:layerColors[l],opacity:1}});
  });
  // height panel
  gi=grids.length; [x0,x1,yT,yB]=p.h;
  grids.push({left:x0,top:yT,width:x1-x0,height:yB-yT,containLabel:false});
  xAxes.push({gridIndex:gi,type:'value',min:0,max:p.hMax,interval:p.hStep,position:'bottom',offset:p.axisY-yB,...axisCommon,axisLabel:{...numLabel(2),formatter:sci,rich:richStyle},...xName('Smoke hours',p.hn,x0,x1,p.axisY,true)});
  yAxes.push({gridIndex:gi,type:'value',min:0,max:10,interval:5,position:'left',offset:2.5,...axisCommon,axisLabel:numLabel(3),...yName('Height [km]',p.kn,yT,yB,x0-2.5,!p.thin)});
  drawOrder.forEach(l=>{ const arr=p.prof[l]; if(!arr) return;
    series.push({name:p.id+' height '+l,type:'custom',xAxisIndex:gi,yAxisIndex:gi,silent:true,animation:false,renderItem:rowItem,encode:{x:2,y:[0,1]},itemStyle:{color:layerColors[l]},
      data:arr.map((v,i)=>[heightEdges[i],heightEdges[i+1],v*p.hUnit])});
  });
});
// map
echarts.registerMap('regions',{type:'FeatureCollection',features:regionNames.map((n,i)=>({type:'Feature',properties:{name:n},geometry:{type:'Polygon',coordinates:[regionShapes[i].concat([regionShapes[i][0]])]}}))});
const allPts=regionShapes.flat(),mx=allPts.map(p=>p[0]),my=allPts.map(p=>p[1]);
const MAPX=1568/640,MAPY=3;
const minX=Math.min(...mx),maxX=Math.max(...mx),minY=Math.min(...my),maxY=Math.max(...my);
const geo={map:'regions',silent:true,roam:false,z:1,left:720+minX/MAPX,top:400+minY/MAPY,width:(maxX-minX)/MAPX,height:(maxY-minY)/MAPY,
  projection:{project:p=>[p[0]/MAPX,p[1]/MAPY],unproject:p=>[p[0]*MAPX,p[1]*MAPY]},
  label:{show:false},itemStyle:{borderColor:'#000',borderWidth:1.8},
  regions:regionNames.map(n=>({name:n,itemStyle:{areaColor:regionColors[n]}}))};
series.push({name:'state lines',type:'lines',coordinateSystem:'geo',polyline:true,silent:true,animation:false,z:3,lineStyle:{color:'#555',width:.8,opacity:1},data:stateLines.map(c=>({coords:c}))});
series.push({name:'region labels',type:'scatter',coordinateSystem:'geo',symbolSize:1,silent:true,animation:false,z:5,itemStyle:{color:'rgba(0,0,0,0)'},
  label:{show:true,position:'inside',formatter:q=>q.value[2],color:'#000',fontFamily:FONT,fontSize:24},data:regionNames.map((n,i)=>[...regionLabelSpots[i],n])});
series.push({name:'connectors',type:'lines',coordinateSystem:'geo',silent:true,animation:false,z:4,lineStyle:{color:'#999',width:4,type:[4,4],opacity:.9,curveness:0},data:connectors.map(c=>({coords:c}))});
const chart=echarts.init(document.getElementById('c'),null,{renderer:'canvas'});
chart.setOption({backgroundColor:'#fff',animation:false,title:titles,geo,grid:grids,xAxis:xAxes,yAxis:yAxes,series,tooltip:{show:false},legend:{show:false}});
</script></body></html>
